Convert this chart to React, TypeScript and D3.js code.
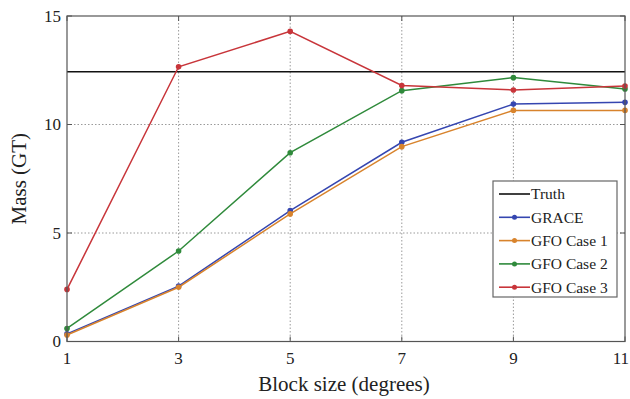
import { useEffect, useRef } from "react";
import * as d3 from "d3";

const blockSizes = [1, 3, 5, 7, 9, 11];
const truthMass = 12.43;
const graceMass = [0.35, 2.55, 6.03, 9.18, 10.94, 11.02];
const gfoCase1 = [0.3, 2.5, 5.88, 8.98, 10.65, 10.65];
const gfoCase2 = [0.6, 4.17, 8.7, 11.56, 12.16, 11.64];
const gfoCase3 = [2.4, 12.66, 14.29, 11.8, 11.59, 11.77];
const yTicks = [0, 5, 10, 15];

const SERIES = [
  { name: "GRACE", values: graceMass, color: "#3546b0" },
  { name: "GFO Case 1", values: gfoCase1, color: "#d8832c" },
  { name: "GFO Case 2", values: gfoCase2, color: "#2f8a3b" },
  { name: "GFO Case 3", values: gfoCase3, color: "#c8353a" },
];

const W = 630;
const H = 399;
const margin = { top: 16, right: 5, bottom: 57.5, left: 67 };
const FONT = "'Liberation Serif', 'Times New Roman', serif";

export default function App() {
  const svgRef = useRef<SVGSVGElement>(null);

  useEffect(() => {
    if (!svgRef.current) return;
    const svg = d3.select(svgRef.current);
    svg.selectAll("*").remove();

    const innerW = W - margin.left - margin.right;
    const innerH = H - margin.top - margin.bottom;

    const x = d3.scaleLinear().domain([1, 11]).range([0, innerW]);
    const y = d3.scaleLinear().domain([0, 15]).range([innerH, 0]);

    const g = svg.append("g").attr("transform", `translate(${margin.left},${margin.top})`);

    // grid
    g.selectAll("line.vgrid")
      .data(blockSizes.slice(1, -1))
      .join("line")
      .attr("x1", (d) => x(d)).attr("x2", (d) => x(d))
      .attr("y1", 0).attr("y2", innerH)
      .attr("stroke", "#9a9a9a").attr("stroke-width", 1)
      .attr("stroke-dasharray", "1.5,2");
    g.selectAll("line.hgrid")
      .data(yTicks.slice(1, -1))
      .join("line")
      .attr("x1", 0).attr("x2", innerW)
      .attr("y1", (d) => y(d)).attr("y2", (d) => y(d))
      .attr("stroke", "#9a9a9a").attr("stroke-width", 1)
      .attr("stroke-dasharray", "1.5,2");

    // truth
    g.append("line")
      .attr("x1", 0).attr("x2", innerW)
      .attr("y1", y(truthMass)).attr("y2", y(truthMass))
      .attr("stroke", "#111").attr("stroke-width", 1.6);

    const line = d3.line<number>()
      .x((_, i) => x(blockSizes[i]))
      .y((d) => y(d));

    SERIES.forEach((s) => {
      g.append("path")
        .datum(s.values)
        .attr("d", line)
        .attr("fill", "none")
        .attr("stroke", s.color)
        .attr("stroke-width", 1.5);
      g.selectAll(null)
        .data(s.values)
        .join("circle")
        .attr("cx", (_, i) => x(blockSizes[i]))
        .attr("cy", (d) => y(d))
        .attr("r", 2.8)
        .attr("fill", s.color);
    });

    // frame
    g.append("rect")
      .attr("width", innerW).attr("height", innerH)
      .attr("fill", "none").attr("stroke", "#555").attr("stroke-width", 1.2);

    // ticks (inside, mirrored)
    const tl = 5;
    blockSizes.forEach((d) => {
      g.append("line").attr("x1", x(d)).attr("x2", x(d)).attr("y1", innerH).attr("y2", innerH - tl).attr("stroke", "#555");
      g.append("line").attr("x1", x(d)).attr("x2", x(d)).attr("y1", 0).attr("y2", tl).attr("stroke", "#555");
    });
    yTicks.forEach((d) => {
      g.append("line").attr("x1", 0).attr("x2", tl).attr("y1", y(d)).attr("y2", y(d)).attr("stroke", "#555");
      g.append("line").attr("x1", innerW).attr("x2", innerW - tl).attr("y1", y(d)).attr("y2", y(d)).attr("stroke", "#555");
    });

    // tick labels (last one pulled inside the canvas)
    const last = blockSizes[blockSizes.length - 1];
    g.selectAll("text.xt")
      .data(blockSizes)
      .join("text")
      .attr("x", (d) => (d === last ? W - margin.left - 1 : x(d)))
      .attr("y", innerH + 22)
      .attr("text-anchor", (d) => (d === last ? "end" : "middle"))
      .attr("font-family", FONT).attr("font-size", 17).attr("fill", "#222")
      .text((d) => d);
    g.selectAll("text.yt")
      .data(yTicks)
      .join("text")
      .attr("x", -6)
      .attr("y", (d) => y(d))
      .attr("dy", "0.35em")
      .attr("text-anchor", "end")
      .attr("font-family", FONT).attr("font-size", 17).attr("fill", "#222")
      .text((d) => d);

    // axis titles
    svg.append("text")
      .attr("x", margin.left + innerW / 2 - 2)
      .attr("y", 391)
      .attr("text-anchor", "middle")
      .attr("font-family", FONT).attr("font-size", 21).attr("fill", "#222")
      .text("Block size (degrees)");
    svg.append("text")
      .attr("transform", `translate(26,${margin.top + innerH / 2}) rotate(-90)`)
      .attr("text-anchor", "middle")
      .attr("font-family", FONT).attr("font-size", 21).attr("fill", "#222")
      .text("Mass (GT)");

    // legend
    const lx = 493, ly = 181, lw = 124, lh = 116, step = 23.3;
    const legend = svg.append("g");
    legend.append("rect")
      .attr("x", lx).attr("y", ly).attr("width", lw).attr("height", lh)
      .attr("fill", "#fff").attr("stroke", "#666").attr("stroke-width", 1.2);
    const items = [{ name: "Truth", color: "#111", marker: false }, ...SERIES.map((s) => ({ name: s.name, color: s.color, marker: true }))];
    items.forEach((it, i) => {
      const cy = ly + 13 + i * step;
      legend.append("line")
        .attr("x1", lx + 6).attr("x2", lx + 37)
        .attr("y1", cy).attr("y2", cy)
        .attr("stroke", it.color).attr("stroke-width", 1.6);
      if (it.marker) {
        legend.append("circle").attr("cx", lx + 21.5).attr("cy", cy).attr("r", 2.5).attr("fill", it.color);
      }
      legend.append("text")
        .attr("x", lx + 38).attr("y", cy).attr("dy", "0.35em")
        .attr("font-family", FONT).attr("font-size", 15.5).attr("fill", "#222")
        .text(it.name);
    });
  }, []);

  return (
    <svg ref={svgRef} width={W} height={H} style={{ display: "block", position: "absolute", left: 0, top: 0, background: "#fff" }} />
  );
}
